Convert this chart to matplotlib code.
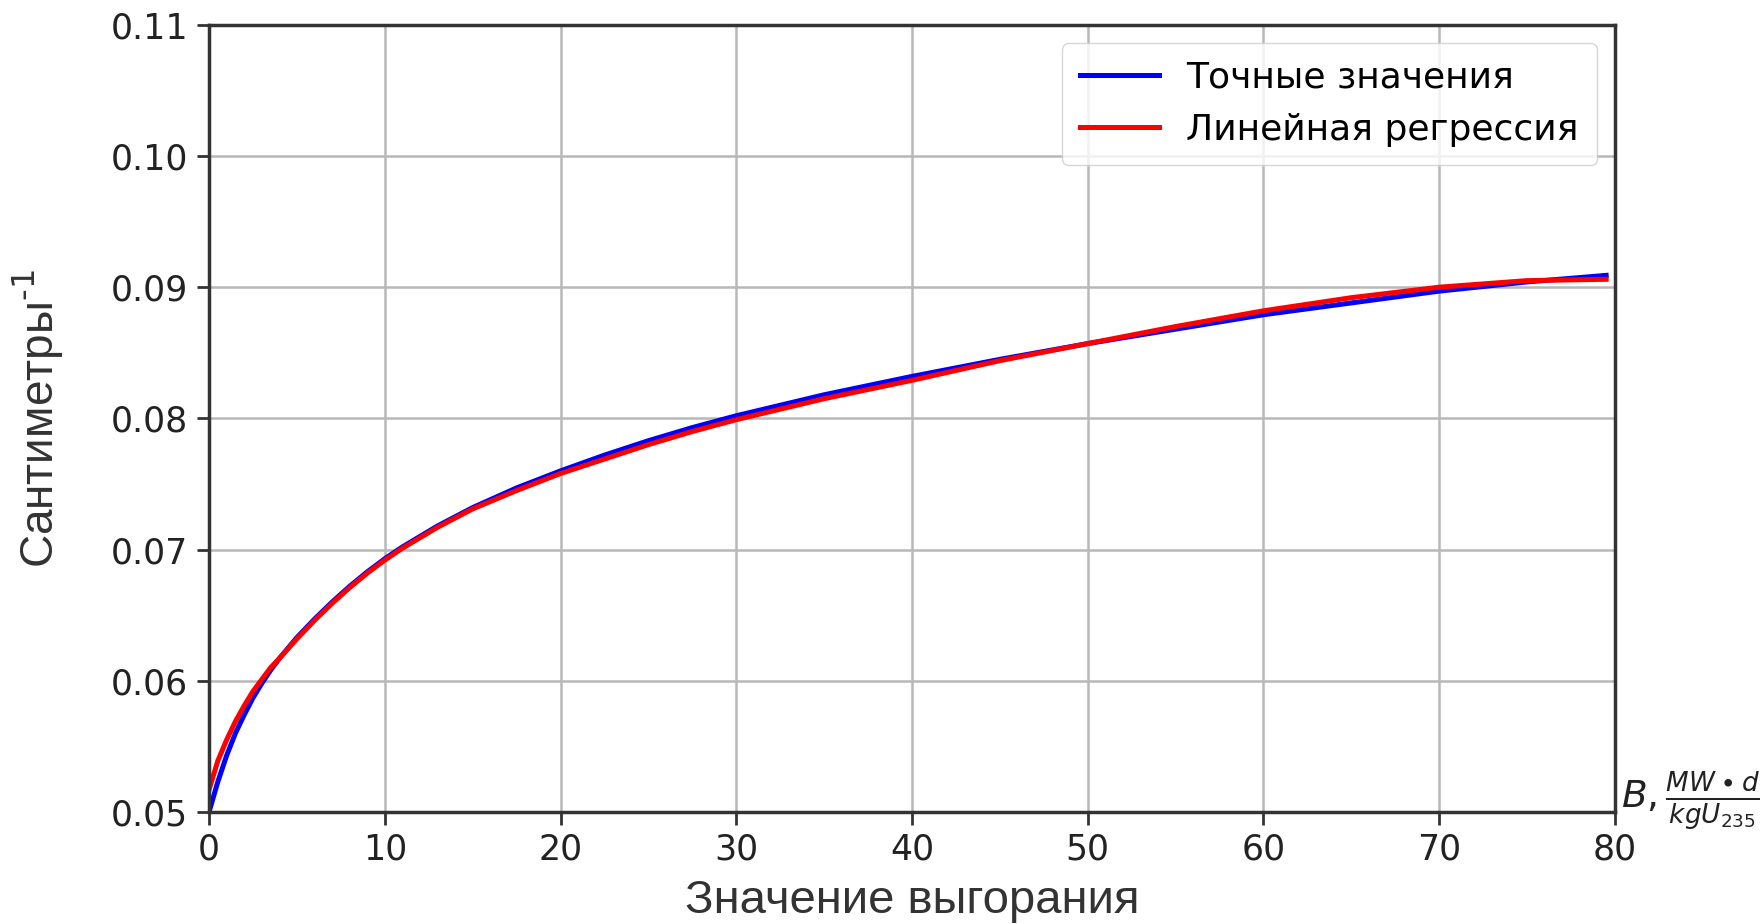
'''
Burnup dependence: exact values vs linear regression
'''
import matplotlib
matplotlib.use('Agg')
import matplotlib.pyplot as plt

# ----------------------------
l_burnup = [0, 0.5, 1, 1.5, 2, 2.5, 3, 3.5, 4, 5, 6, 7, 8, 9, 10, 11, 12, 13, 14, 15,
            17.5, 20, 22.5, 25, 27.5, 30, 35, 40, 45, 50, 55, 60, 65, 70, 75, 79.5]

l_exact  = [0.0500, 0.0523, 0.0543, 0.0560, 0.0574, 0.0587, 0.0598, 0.0608, 0.0617, 0.0633,
            0.0647, 0.0660, 0.0672, 0.0683, 0.0693, 0.0702, 0.0710, 0.0718, 0.0725, 0.0732,
            0.0747, 0.0760, 0.0772, 0.0783, 0.0793, 0.0802, 0.0818, 0.0832, 0.0845, 0.0857,
            0.0868, 0.0879, 0.0888, 0.0897, 0.0904, 0.0909]

l_regr   = [0.0517, 0.0539, 0.0555, 0.0569, 0.0581, 0.0592, 0.0601, 0.0610, 0.0617, 0.0632,
            0.0646, 0.0659, 0.0671, 0.0682, 0.0692, 0.0701, 0.0709, 0.0717, 0.0724, 0.0731,
            0.0745, 0.0758, 0.0769, 0.0780, 0.0790, 0.0799, 0.0815, 0.0829, 0.0844, 0.0857,
            0.0870, 0.0882, 0.0892, 0.0900, 0.0905, 0.0906]

l_xticks = [0, 10, 20, 30, 40, 50, 60, 70, 80]
l_yticks = [0.05, 0.06, 0.07, 0.08, 0.09, 0.10, 0.11]
# ----------------------------
fig = plt.figure(figsize=(17.64, 9.24), dpi=100)
ax  = fig.add_axes([0.1185, 0.1212, 0.797, 0.852])

ax.plot(l_burnup, l_exact, color='blue', lw=3.6, label='Точные значения')
ax.plot(l_burnup, l_regr , color='red' , lw=3.6, label='Линейная регрессия')

ax.set_xlim(0, 80)
ax.set_ylim(0.05, 0.11)
ax.set_xticks(l_xticks)
ax.set_yticks(l_yticks)
ax.set_yticklabels([f'{val:.2f}' for val in l_yticks])
ax.grid(True, color='#b8b8b8', lw=1.8)

ax.tick_params(labelsize=25, length=9, width=2, color='#333333', labelcolor='#222222', pad=6)
for spine in ax.spines.values():
    spine.set_linewidth(2.5)
    spine.set_color('#333333')

ax.set_xlabel('Значение выгорания', family='Liberation Sans', fontsize=34, color='#333333', labelpad=9)
ax.set_ylabel(r'Сантиметры$^{\text{-1}}$', family='Liberation Sans', fontsize=33, color='#333333', labelpad=32)

ax.text(1.004, 0.014, r'$B,\frac{MW\bullet d}{kgU_{235}}$', transform=ax.transAxes,
        fontsize=27, color='#222222', ha='left', va='center')

ax.legend(loc='upper right', fontsize=26, handlelength=2.2, handletextpad=0.75, borderpad=0.5,
          framealpha=0.8, edgecolor='#cccccc', fancybox=True)

fig.savefig('out.png', dpi=100)
